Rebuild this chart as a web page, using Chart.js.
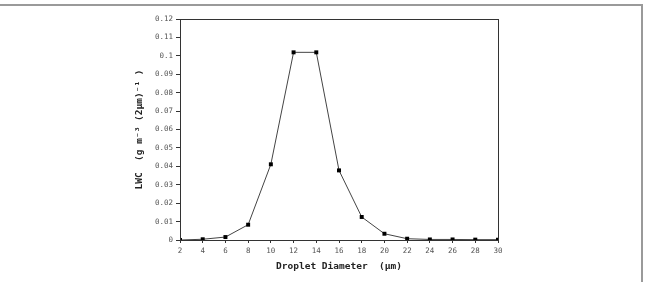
<!DOCTYPE html>
<html><head><meta charset="UTF-8">
<script src="https://cdn.jsdelivr.net/npm/chart.js"></script>
<style>
  html, body { margin: 0; padding: 0; background: #fff; overflow: hidden; }
  #wrap { position: relative; width: 648px; height: 282px; }
  #frame { position: absolute; left: -5px; top: 4px; width: 648px; height: 290px; border-top: 2px solid #9a9a9a; border-right: 2px solid #9a9a9a; box-sizing: border-box; pointer-events: none; }
  canvas { position: absolute; left: 0; top: 0; }
</style></head><body>
<div id="wrap">
  <canvas id="c" width="648" height="282"></canvas>
  <div id="frame"></div>
</div>
<script>
// droplet diameter (µm) vs liquid water content
const diameters = [2, 4, 6, 8, 10, 12, 14, 16, 18, 20, 22, 24, 26, 28, 30];
const lwc = [0, 0.0004, 0.0016, 0.0083, 0.0411, 0.1019, 0.1019, 0.0378, 0.0125, 0.0034, 0.0007, 0.0003, 0.0003, 0.0002, 0.0002];
const xTicks = [2, 4, 6, 8, 10, 12, 14, 16, 18, 20, 22, 24, 26, 28, 30];
const yTicks = ['0', '0.01', '0.02', '0.03', '0.04', '0.05', '0.06', '0.07', '0.08', '0.09', '0.1', '0.11', '0.12'];

const MONO = "'DejaVu Sans Mono', 'Liberation Mono', monospace";

// box around the plot area
const boxPlugin = {
  id: 'box',
  afterDraw(chart) {
    const a = chart.chartArea, ctx = chart.ctx;
    ctx.save();
    ctx.strokeStyle = '#333'; ctx.lineWidth = 1;
    ctx.strokeRect(a.left + 0.5, a.top + 0.5, a.right - a.left, a.bottom - a.top);
    ctx.restore();
  }
};

new Chart(document.getElementById('c'), {
  type: 'line',
  data: {
    datasets: [{
      data: diameters.map((d, i) => ({ x: d, y: lwc[i] })),
      borderColor: '#444', borderWidth: 1, tension: 0,
      pointStyle: 'rect', pointRadius: 2.8, pointBackgroundColor: '#000', pointBorderColor: '#000', pointBorderWidth: 0
    }]
  },
  options: {
    responsive: false, animation: false,
    layout: { padding: { left: 134, right: 150, top: 19, bottom: 6 } },
    plugins: { legend: { display: false }, tooltip: { enabled: false } },
    scales: {
      x: {
        type: 'linear', min: 2, max: 30,
        afterBuildTicks: s => { s.ticks = xTicks.map(v => ({ value: v })); },
        afterFit: s => { s.height = 36; },
        grid: { drawOnChartArea: false, color: '#333', tickLength: 3 },
        border: { color: '#333' },
        ticks: { color: '#555', font: { family: MONO, size: 7.5 }, padding: 4, maxRotation: 0, autoSkip: false },
        title: { display: true, text: 'Droplet Diameter  (μm)', color: '#222', font: { family: MONO, size: 9.5, weight: 'bold' }, padding: { top: 2 } }
      },
      y: {
        min: 0, max: 0.12,
        afterBuildTicks: s => { s.ticks = yTicks.map(v => ({ value: Number(v) })); },
        afterFit: s => { s.width = 46; },
        grid: { drawOnChartArea: false, color: '#333', tickLength: 4 },
        border: { color: '#333' },
        ticks: { color: '#555', font: { family: MONO, size: 7.5 }, padding: 3, callback: (v, i) => yTicks[i] },
        title: { display: true, text: 'LWC  (g m⁻³ (2μm)⁻¹ )', color: '#222', font: { family: MONO, size: 9.5, weight: 'bold' }, padding: { top: 0, bottom: 0 } }
      }
    }
  },
  plugins: [boxPlugin]
});
</script>
</body></html>
